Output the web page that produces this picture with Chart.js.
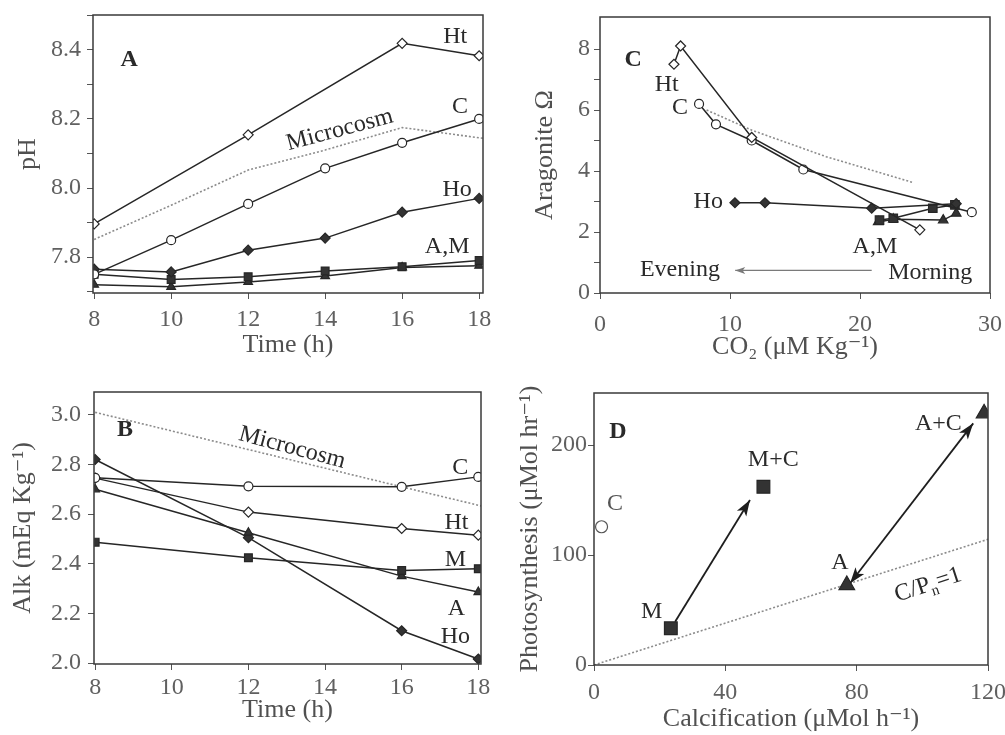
<!DOCTYPE html>
<html><head><meta charset="utf-8">
<script src="https://cdn.jsdelivr.net/npm/chart.js@4.4.1/dist/chart.umd.min.js"></script>
<style>
html,body{margin:0;padding:0;background:#fff;}
#wrap{position:relative;width:1005px;height:735px;overflow:hidden;background:#fff;}
canvas{position:absolute;}
</style></head><body>
<div id="wrap">
<canvas id="cA" width="500" height="365" style="left:0;top:0"></canvas>
<canvas id="cB" width="500" height="365" style="left:0;top:370px"></canvas>
<canvas id="cC" width="505" height="365" style="left:500px;top:0"></canvas>
<canvas id="cD" width="505" height="365" style="left:500px;top:370px"></canvas>
</div>
<script>
// ---------- Panel A: pH vs time ----------
const timesA = [8, 10, 12, 14, 16, 18];
const timesHtA = [8, 12, 16, 18];
const phHt = [7.896, 8.154, 8.419, 8.383];
const phC = [7.75, 7.849, 7.954, 8.057, 8.131, 8.20];
const phHo = [7.765, 7.757, 7.82, 7.855, 7.93, 7.97];
const phM = [7.75, 7.735, 7.743, 7.76, 7.772, 7.79];
const phA = [7.72, 7.714, 7.728, 7.745, 7.77, 7.775];
const timesMicroA = [8, 10, 12, 14, 16, 18.1];
const phMicro = [7.851, 7.95, 8.052, 8.11, 8.175, 8.144];
const xTicksTime = [8, 10, 12, 14, 16, 18];
const xTickLabelsTime = ['8', '10', '12', '14', '16', '18'];
const yTicksA = [7.7, 7.8, 7.9, 8.0, 8.1, 8.2, 8.3, 8.4, 8.5];
const yTickLabelsA = ['', '7.8', '', '8.0', '', '8.2', '', '8.4', ''];

// ---------- Panel B: Alkalinity vs time ----------
const timesB = [8, 12, 16, 18];
const alkC = [2.746, 2.712, 2.71, 2.75];
const alkHt = [2.745, 2.608, 2.542, 2.515];
const alkM = [2.487, 2.424, 2.373, 2.38];
const alkA = [2.70, 2.525, 2.35, 2.286];
const alkHo = [2.82, 2.505, 2.13, 2.016];
const timesMicroB = [8, 16, 18.1];
const alkMicro = [3.01, 2.71, 2.632];
const yTicksB = [2.0, 2.2, 2.4, 2.6, 2.8, 3.0];
const yTickLabelsB = ['2.0', '2.2', '2.4', '2.6', '2.8', '3.0'];

// ---------- Panel C: Aragonite saturation vs CO2 ----------
const co2Ht = [24.6, 11.67, 6.2, 5.69];
const omegaHt = [2.07, 5.1, 8.1, 7.5];
const co2C = [28.6, 15.64, 11.67, 8.92, 7.62];
const omegaC = [2.65, 4.05, 5.0, 5.53, 6.2];
const co2Ho = [27.4, 20.9, 12.69, 10.38];
const omegaHo = [2.93, 2.78, 2.96, 2.96];
const co2M = [27.3, 25.6, 22.56, 21.5];
const omegaM = [2.89, 2.78, 2.45, 2.39];
const co2A = [27.4, 26.4, 22.56, 21.4];
const omegaA = [2.61, 2.39, 2.42, 2.33];
const co2Micro = [8.2, 11.67, 17.4, 24.1];
const omegaMicro = [6.0, 5.34, 4.47, 3.62];
const co2TimeArrow = [20.9, 10.4];
const omegaTimeArrow = [0.74, 0.74];
const xTicksC = [0, 10, 20, 30];
const xTickLabelsC = ['0', '10', '20', '30'];
const yTicksC = [0, 1, 2, 3, 4, 5, 6, 7, 8];
const yTickLabelsC = ['0', '', '2', '', '4', '', '6', '', '8'];

// ---------- Panel D: Photosynthesis vs calcification ----------
const calcM = [23.4, 51.6];
const photoM = [33.4, 162];
const calcA = [77, 118.8];
const photoA = [72.7, 228.8];
const calcC = [2.3];
const photoC = [125.7];
const calcRatio = [0, 120];
const photoRatio = [0, 114.3];
const calcArrowM = [24.7, 47.5];
const photoArrowM = [39.4, 150];
const calcArrowA = [78, 115.5];
const photoArrowA = [74.3, 219.7];
const xTicksD = [0, 40, 80, 120];
const xTickLabelsD = ['0', '40', '80', '120'];
const yTicksD = [0, 100, 200];
const yTickLabelsD = ['0', '100', '200'];

// ---------- helpers ----------
const SERIF = '"Liberation Serif", "DejaVu Serif", serif';
const TICK = '#606060', TITLE = '#505050', INK = '#262626', FILL = '#333333';
const TICK_SIZE = 24, TITLE_SIZE = 26, NOTE_SIZE = 24;
const pts = (xs, ys) => xs.map((x, i) => ({x: x, y: ys[i]}));

function series(xs, ys, style, r) {
  const open = style === 'openDiamond' || style === 'openCircle';
  const ps = {openDiamond: 'rectRot', filledDiamond: 'rectRot', openCircle: 'circle', square: 'rect', triangle: 'triangle'}[style];
  return {
    data: pts(xs, ys), borderColor: INK, borderWidth: 1.5, tension: 0, fill: false,
    pointStyle: ps, pointRadius: r || 5, pointBorderWidth: 1.2,
    pointBorderColor: INK, pointBackgroundColor: open ? '#ffffff' : FILL
  };
}
function dotted(xs, ys) {
  return {data: pts(xs, ys), borderColor: '#8c8c8c', borderWidth: 1.6, borderDash: [2, 2],
          pointRadius: 0, fill: false, tension: 0};
}
function plainLine(xs, ys, color, w) {
  return {data: pts(xs, ys), borderColor: color, borderWidth: w, pointRadius: 0, fill: false, tension: 0};
}

const framePlugin = {
  id: 'frame',
  afterDatasetsDraw(chart) {
    const a = chart.chartArea, ctx = chart.ctx;
    ctx.save(); ctx.strokeStyle = '#3a3a3a'; ctx.lineWidth = 1.5;
    ctx.strokeRect(a.left, a.top, a.right - a.left, a.bottom - a.top);
    ctx.restore();
  }
};
function notesPlugin(items) {
  return {
    id: 'notes',
    afterDatasetsDraw(chart) {
      const ctx = chart.ctx, xs = chart.scales.x, ys = chart.scales.y;
      items.forEach(it => {
        const px = xs.getPixelForValue(it.x), py = ys.getPixelForValue(it.y);
        const size = it.size || NOTE_SIZE;
        const parts = it.parts || [{t: it.text}];
        const fontFor = p => (it.bold ? 'bold ' : '') + ((p.sub || p.sup) ? Math.round(size * 0.62) : size) + 'px ' + SERIF;
        const widths = parts.map(p => { ctx.font = fontFor(p); return ctx.measureText(p.t).width; });
        const w = widths.reduce((s, v) => s + v, 0);
        ctx.save();
        ctx.translate(px, py);
        ctx.rotate((it.rot || 0) * Math.PI / 180);
        ctx.textBaseline = 'middle'; ctx.textAlign = 'left';
        ctx.fillStyle = it.color || '#2a2a2a';
        let cx = -w / 2;
        parts.forEach((p, i) => {
          ctx.font = fontFor(p);
          ctx.fillText(p.t, cx, p.sub ? size * 0.32 : (p.sup ? -size * 0.3 : 0));
          cx += widths[i];
        });
        ctx.restore();
      });
    }
  };
}
function arrowPlugin(arrows) {
  return {
    id: 'arrowheads',
    afterDatasetsDraw(chart) {
      const ctx = chart.ctx, xs = chart.scales.x, ys = chart.scales.y;
      arrows.forEach(a => {
        const x0 = xs.getPixelForValue(a.xs[0]), y0 = ys.getPixelForValue(a.ys[0]);
        const x1 = xs.getPixelForValue(a.xs[1]), y1 = ys.getPixelForValue(a.ys[1]);
        const head = (tx, ty, fx, fy) => {
          const ang = Math.atan2(ty - fy, tx - fx), L = a.len || 13, W = a.half || 4.5;
          ctx.beginPath();
          ctx.moveTo(tx, ty);
          ctx.lineTo(tx - L * Math.cos(ang) + W * Math.sin(ang), ty - L * Math.sin(ang) - W * Math.cos(ang));
          ctx.lineTo(tx - L * 0.75 * Math.cos(ang), ty - L * 0.75 * Math.sin(ang));
          ctx.lineTo(tx - L * Math.cos(ang) - W * Math.sin(ang), ty - L * Math.sin(ang) + W * Math.cos(ang));
          ctx.closePath(); ctx.fill();
        };
        ctx.save(); ctx.fillStyle = a.color;
        head(x1, y1, x0, y0);
        if (a.both) head(x0, y0, x1, y1);
        ctx.restore();
      });
    }
  };
}

function makeScales(p) {
  return {
    x: {
      type: 'linear', min: p.xMin, max: p.xMax,
      afterFit: s => { s.height = p.xH; s.paddingLeft = 0; s.paddingRight = 0; },
      afterBuildTicks: s => { s.ticks = p.xTicks.map(v => ({value: v})); },
      ticks: {callback: (v, i) => p.xLabels[i], font: {family: SERIF, size: TICK_SIZE}, color: TICK,
              padding: p.xTp, maxRotation: 0, autoSkip: false},
      grid: {display: true, drawOnChartArea: false, drawTicks: true, tickLength: 6, color: '#555', lineWidth: 1},
      border: {display: false},
      title: {display: true, text: p.xTitle, font: {family: SERIF, size: TITLE_SIZE}, color: TITLE,
              padding: {top: 0, bottom: p.xTb}}
    },
    y: {
      type: 'linear', min: p.yMin, max: p.yMax,
      afterFit: s => { s.width = p.yW; s.paddingTop = 0; s.paddingBottom = 0; },
      afterBuildTicks: s => { s.ticks = p.yTicks.map(v => ({value: v})); },
      ticks: {callback: (v, i) => p.yLabels[i], font: {family: SERIF, size: TICK_SIZE}, color: TICK,
              padding: p.yTp, autoSkip: false},
      grid: {display: true, drawOnChartArea: false, drawTicks: true, tickLength: 6, color: '#555', lineWidth: 1},
      border: {display: false},
      title: {display: true, text: p.yTitle, font: {family: SERIF, size: TITLE_SIZE}, color: TITLE,
              padding: {top: p.yTt, bottom: 0}}
    }
  };
}
function makeChart(id, datasets, p, notes, arrows) {
  return new Chart(document.getElementById(id), {
    type: 'line',
    data: {datasets: datasets},
    options: {
      responsive: false, animation: false, devicePixelRatio: 1,
      layout: {padding: {left: 0, top: p.padTop, right: p.padRight, bottom: 0}},
      plugins: {legend: {display: false}, tooltip: {enabled: false}},
      scales: makeScales(p)
    },
    plugins: [framePlugin, notesPlugin(notes), arrowPlugin(arrows || [])]
  });
}

// ---------- Panel A ----------
makeChart('cA', [
  series(timesHtA, phHt, 'openDiamond'),
  series(timesA, phC, 'openCircle', 4.5),
  series(timesA, phHo, 'filledDiamond'),
  series(timesA, phM, 'square', 5.5),
  series(timesA, phA, 'triangle'),
  dotted(timesMicroA, phMicro)
], {
  xMin: 7.97, xMax: 18.1, yMin: 7.696, yMax: 8.501,
  xTicks: xTicksTime, xLabels: xTickLabelsTime, yTicks: yTicksA, yLabels: yTickLabelsA,
  xTitle: 'Time (h)', yTitle: 'pH',
  padTop: 15, padRight: 17, yW: 93, xH: 72, yTp: 6, yTt: 12.4, xTp: 6.6, xTb: 4.4
}, [
  {x: 8.91, y: 8.371, text: 'A', bold: true},
  {x: 17.38, y: 8.438, text: 'Ht'},
  {x: 17.5, y: 8.235, text: 'C'},
  {x: 14.38, y: 8.168, text: 'Microcosm', rot: -15},
  {x: 17.43, y: 7.994, text: 'Ho'},
  {x: 17.17, y: 7.829, text: 'A,M'}
]);

// ---------- Panel B ----------
makeChart('cB', [
  series(timesB, alkC, 'openCircle', 4.5),
  series(timesB, alkHt, 'openDiamond'),
  series(timesB, alkM, 'square', 5.5),
  series(timesB, alkA, 'triangle'),
  series(timesB, alkHo, 'filledDiamond'),
  dotted(timesMicroB, alkMicro)
], {
  xMin: 7.97, xMax: 18.07, yMin: 1.996, yMax: 3.092,
  xTicks: xTicksTime, xLabels: xTickLabelsTime, yTicks: yTicksB, yLabels: yTickLabelsB,
  xTitle: 'Time (h)', yTitle: 'Alk (mEq Kg\u207B\u00B9)',
  padTop: 22, padRight: 19, yW: 94, xH: 71, yTp: 7, yTt: 7.4, xTp: 3.6, xTb: 9.4
}, [
  {x: 8.78, y: 2.94, text: 'B', bold: true},
  {x: 13.14, y: 2.867, text: 'Microcosm', rot: 15},
  {x: 17.53, y: 2.787, text: 'C'},
  {x: 17.43, y: 2.566, text: 'Ht'},
  {x: 17.4, y: 2.418, text: 'M'},
  {x: 17.43, y: 2.217, text: 'A'},
  {x: 17.4, y: 2.108, text: 'Ho'}
]);

// ---------- Panel C ----------
makeChart('cC', [
  series(co2Ht, omegaHt, 'openDiamond'),
  series(co2C, omegaC, 'openCircle', 4.5),
  series(co2Ho, omegaHo, 'filledDiamond'),
  series(co2M, omegaM, 'square', 6),
  series(co2A, omegaA, 'triangle', 5.5),
  dotted(co2Micro, omegaMicro),
  plainLine(co2TimeArrow, omegaTimeArrow, '#7a7a7a', 1.3)
], {
  xMin: 0, xMax: 30, yMin: 0, yMax: 9.05,
  xTicks: xTicksC, xLabels: xTickLabelsC, yTicks: yTicksC, yLabels: yTickLabelsC,
  xTitle: 'CO\u2082 (\u03BCM Kg\u207B\u00B9)', yTitle: 'Aragonite \u03A9',
  padTop: 17, padRight: 15, yW: 100, xH: 72, yTp: 4, yTt: 29.4, xTp: 11.6, xTb: 2.4
}, [
  {x: 2.56, y: 7.64, text: 'C', bold: true},
  {x: 5.13, y: 6.82, text: 'Ht'},
  {x: 6.15, y: 6.06, text: 'C'},
  {x: 8.33, y: 2.99, text: 'Ho'},
  {x: 21.15, y: 1.52, text: 'A,M'},
  {x: 6.15, y: 0.75, text: 'Evening'},
  {x: 25.4, y: 0.66, text: 'Morning'}
], [
  {xs: co2TimeArrow, ys: omegaTimeArrow, color: '#7a7a7a', len: 10, half: 3.5}
]);

// ---------- Panel D ----------
makeChart('cD', [
  Object.assign(series(calcM, photoM, 'square', 9), {showLine: false}),
  Object.assign(series(calcA, photoA, 'triangle', 9), {showLine: false}),
  Object.assign(series(calcC, photoC, 'openCircle', 6), {showLine: false, pointBorderColor: '#555'}),
  plainLine(calcArrowM, photoArrowM, '#1e1e1e', 1.8),
  plainLine(calcArrowA, photoArrowA, '#1e1e1e', 1.8),
  dotted(calcRatio, photoRatio)
], {
  xMin: 0, xMax: 120, yMin: 0, yMax: 247.3,
  xTicks: xTicksD, xLabels: xTickLabelsD, yTicks: yTicksD, yLabels: yTickLabelsD,
  xTitle: 'Calcification (\u03BCMol h\u207B\u00B9)', yTitle: 'Photosynthesis (\u03BCMol hr\u207B\u00B9)',
  padTop: 23, padRight: 17, yW: 94, xH: 70, yTp: 1, yTt: 14.4, xTp: 7.6, xTb: 0
}, [
  {x: 7.3, y: 211.8, text: 'D', bold: true},
  {x: 6.4, y: 147, text: 'C', color: '#555'},
  {x: 54.6, y: 186.4, text: 'M+C'},
  {x: 104.9, y: 219.7, text: 'A+C'},
  {x: 74.9, y: 93, text: 'A'},
  {x: 17.6, y: 48.5, text: 'M'},
  {x: 101.8, y: 72.7, parts: [{t: 'C/P'}, {t: 'n', sub: true}, {t: '=1'}], rot: -18}
], [
  {xs: calcArrowM, ys: photoArrowM, color: '#1e1e1e', len: 16, half: 5.5},
  {xs: calcArrowA, ys: photoArrowA, color: '#1e1e1e', len: 16, half: 5.5, both: true}
]);
</script>
</body></html>
